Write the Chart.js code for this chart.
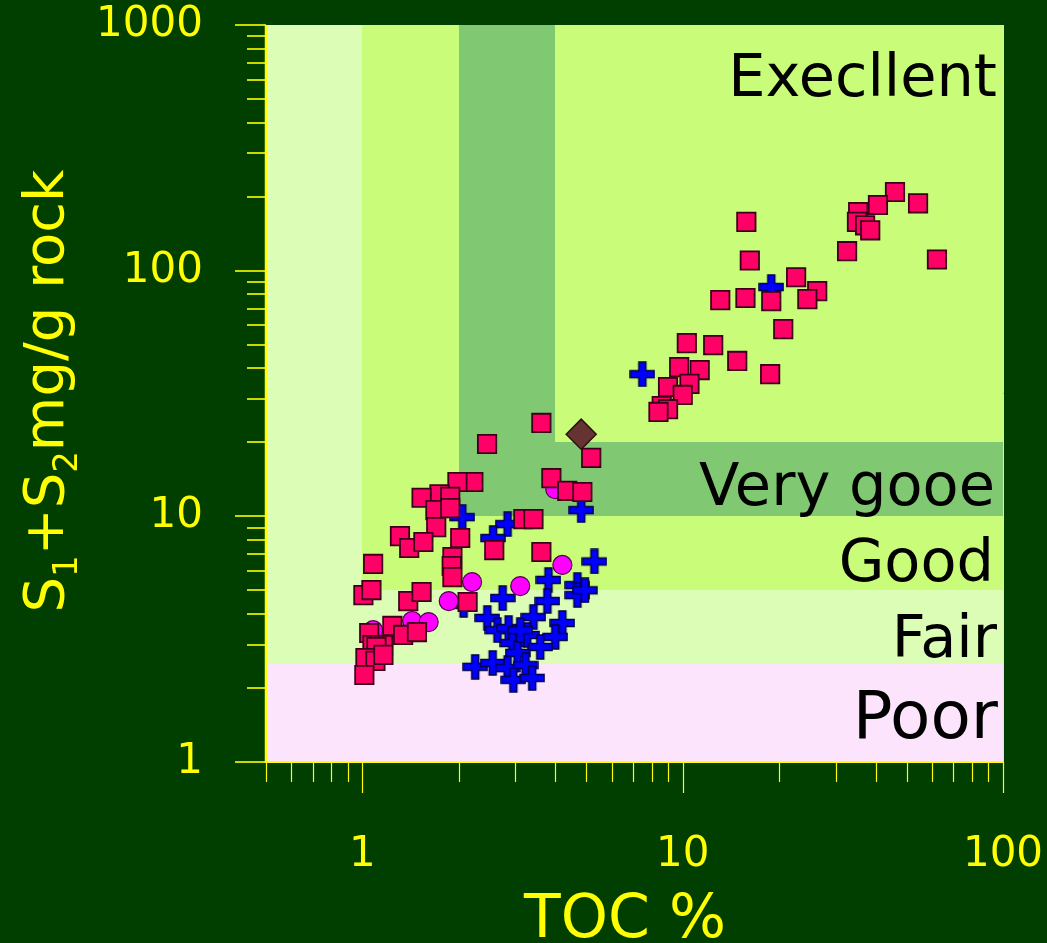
<!DOCTYPE html>
<html>
<head>
<meta charset="utf-8">
<script src="https://cdn.jsdelivr.net/npm/chart.js@4.4.1/dist/chart.umd.min.js"></script>
<style>
html, body { margin: 0; padding: 0; background: #003f00; }
#wrap { width: 1047px; height: 943px; }
</style>
</head>
<body>
<div id="wrap"><canvas id="myChart" width="1047" height="943"></canvas></div>
<script>
// values (TOC %, S1+S2 mg/g rock)
var squareToc = [46.0, 54.3, 40.7, 35.3, 35.0, 37.1, 38.5, 62.2, 15.8, 16.2, 32.6, 22.6, 26.3, 24.5, 18.9, 15.7, 13.1, 20.6,
    10.3, 12.45, 14.8, 18.75, 9.75, 11.3, 10.5, 9.0, 10.0, 8.6, 9.0, 8.4,
    3.62, 2.45, 5.18, 3.89, 4.36, 4.86, 2.22, 1.98, 1.74, 1.53, 1.88, 1.69, 1.88, 1.70, 1.31, 1.40, 1.55, 2.02,
    3.18, 3.42, 2.58, 3.62, 1.08, 1.91, 1.90, 1.91, 1.007, 1.067, 1.39, 1.53, 2.13,
    1.24, 1.34, 1.48, 1.05, 1.16, 1.075, 1.106, 1.022, 1.098, 1.163, 1.014];
var squareS1S2 = [209, 188, 185, 173, 158, 153, 146, 111, 158, 110, 120, 94, 82.6, 76.6, 75.2, 77.4, 75.9, 57.8,
    50.7, 49.8, 42.9, 37.9, 40.5, 39.4, 34.6, 33.6, 31.2, 28.1, 27.3, 26.6,
    24.0, 19.7, 17.3, 14.3, 12.7, 12.56, 13.8, 13.8, 12.3, 11.9, 12.0, 10.6, 10.8, 9.04, 8.31, 7.43, 7.86, 8.16,
    9.75, 9.75, 7.29, 7.16, 6.40, 6.83, 6.28, 5.66, 4.78, 5.01, 4.52, 4.92, 4.48,
    3.58, 3.29, 3.38, 3.35, 2.99, 2.99, 2.94, 2.65, 2.58, 2.73, 2.26];

var crossToc = [2.05, 2.84, 2.56, 4.82, 5.30, 3.81, 4.69, 4.69, 2.74, 3.78, 2.07, 2.455, 3.42, 4.21, 2.64, 2.86,
    3.27, 4.00, 2.94, 3.59, 3.05, 2.25, 2.55, 2.84, 3.23, 2.96, 3.39, 7.48, 18.9, 3.11, 4.95];
var crossS1S2 = [9.93, 9.30, 8.16, 10.6, 6.55, 5.51, 5.25, 4.78, 4.65, 4.52, 4.36, 3.86, 3.89, 3.68, 3.44, 3.51,
    3.29, 3.23, 3.05, 2.94, 2.78, 2.44, 2.53, 2.41, 2.48, 2.16, 2.20, 37.9, 85.8, 3.44, 5.0];

var circleToc = [4.0, 4.21, 3.11, 2.20, 1.86, 1.43, 1.61, 1.08];
var circleS1S2 = [12.9, 6.34, 5.20, 5.40, 4.52, 3.75, 3.71, 3.44];

var diamondToc = [4.82];
var diamondS1S2 = [21.6];

var xTickValues = [1, 10, 100];
var yTickValues = [1, 10, 100, 1000];

// rating zones: [toc from, toc to], [s1+s2 from, s1+s2 to]
var zoneToc = [[0.5, 100], [0.5, 100], [0.5, 1], [1, 100], [2, 4], [2, 100]];
var zoneS1S2 = [[1, 2.5], [2.5, 5], [5, 1000], [5, 1000], [10, 1000], [10, 20]];
var zoneColors = ['#fde4fd', '#dcfdb5', '#dcfdb5', '#c9fd79', '#80c972', '#80c972'];

var classLabels = ['Execllent', 'Very gooe', 'Good', 'Fair', 'Poor'];

var YELLOW = '#ffff00';
var PAGE_BG = '#003f00';

function pts(xs, ys) {
    return xs.map(function (v, i) { return { x: v, y: ys[i] }; });
}

// thick plus sign with a dark outline
var crossImg = document.createElement('canvas');
crossImg.width = 26;
crossImg.height = 26;
(function () {
    var c = crossImg.getContext('2d');
    var a = 9.5, b = 16.5;
    c.beginPath();
    c.moveTo(a, 1); c.lineTo(b, 1); c.lineTo(b, a); c.lineTo(25, a); c.lineTo(25, b); c.lineTo(b, b);
    c.lineTo(b, 25); c.lineTo(a, 25); c.lineTo(a, b); c.lineTo(1, b); c.lineTo(1, a); c.lineTo(a, a);
    c.closePath();
    c.fillStyle = '#0000ff';
    c.fill();
    c.lineWidth = 1.5;
    c.strokeStyle = '#000044';
    c.stroke();
})();

function isMajor(v) {
    var l = Math.log10(v);
    return Math.abs(l - Math.round(l)) < 1e-6;
}

// keep tick padding from eating into the plot area
function noPad(s) {
    s.paddingTop = 0; s.paddingBottom = 0; s.paddingLeft = 0; s.paddingRight = 0;
}

var zonePlugin = {
    id: 'zones',
    beforeDraw: function (chart) {
        var ctx = chart.ctx;
        ctx.save();
        ctx.fillStyle = PAGE_BG;
        ctx.fillRect(0, 0, chart.width, chart.height);
        ctx.restore();
    },
    beforeDatasetsDraw: function (chart) {
        var ctx = chart.ctx, x = chart.scales.x, y = chart.scales.y;
        ctx.save();
        zoneToc.forEach(function (zx, i) {
            var l = Math.round(x.getPixelForValue(zx[0])), r = Math.round(x.getPixelForValue(zx[1]));
            var t = Math.round(y.getPixelForValue(zoneS1S2[i][1])), b = Math.round(y.getPixelForValue(zoneS1S2[i][0]));
            ctx.fillStyle = zoneColors[i];
            ctx.fillRect(l, t, r - l, b - t);
        });
        // rating names
        var right = chart.chartArea.right;
        var base = [96, 505, 581, 657, 738];
        var off = [6, 8, 9, 6, 5];
        var size = [59, 59, 59, 59, 66];
        ctx.fillStyle = '#000000';
        ctx.textAlign = 'right';
        ctx.textBaseline = 'alphabetic';
        classLabels.forEach(function (t, i) {
            ctx.font = size[i] + 'px "DejaVu Sans"';
            ctx.fillText(t, right - off[i], base[i]);
        });
        ctx.restore();
    },
    afterDraw: function (chart) {
        var ctx = chart.ctx, x = chart.scales.x, y = chart.scales.y, a = chart.chartArea;
        ctx.save();
        ctx.strokeStyle = YELLOW;
        // minor + major tick marks
        var d, k, v, p;
        ctx.lineWidth = 1.2;
        for (d = -1; d <= 1; d++) {
            for (k = 1; k <= 9; k++) {
                v = k * Math.pow(10, d);
                if (v < 0.5 || v > 100) continue;
                p = Math.round(x.getPixelForValue(v)) + 0.5;
                ctx.beginPath();
                ctx.moveTo(p, a.bottom);
                ctx.lineTo(p, a.bottom + (k === 1 ? 31 : 20));
                ctx.stroke();
            }
        }
        p = Math.round(x.getPixelForValue(100)) + 0.5;
        ctx.beginPath(); ctx.moveTo(p, a.bottom); ctx.lineTo(p, a.bottom + 31); ctx.stroke();
        ctx.lineWidth = 1.6;
        for (d = 0; d <= 2; d++) {
            for (k = 1; k <= 9; k++) {
                v = k * Math.pow(10, d);
                p = Math.round(y.getPixelForValue(v));
                ctx.beginPath();
                ctx.moveTo(a.left, p);
                ctx.lineTo(a.left - (k === 1 ? 31 : 19), p);
                ctx.stroke();
            }
        }
        p = Math.round(y.getPixelForValue(1000));
        ctx.beginPath(); ctx.moveTo(a.left, p); ctx.lineTo(a.left - 31, p); ctx.stroke();
        // axis lines
        ctx.lineWidth = 2.5;
        ctx.beginPath(); ctx.moveTo(a.left, a.top); ctx.lineTo(a.left, a.bottom + 1); ctx.stroke();
        ctx.lineWidth = 2;
        ctx.beginPath(); ctx.moveTo(a.left, a.bottom); ctx.lineTo(a.right, a.bottom); ctx.stroke();
        ctx.lineWidth = 1;
        ctx.beginPath(); ctx.moveTo(a.right + 0.5, a.top); ctx.lineTo(a.right + 0.5, a.bottom); ctx.stroke();

        // axis titles
        ctx.fillStyle = YELLOW;
        ctx.textAlign = 'center';
        ctx.textBaseline = 'alphabetic';
        ctx.font = '60px "DejaVu Sans"';
        ctx.fillText('TOC %', 625, 937);

        var segs = [['S', 0], ['1', 1], ['+', 0], ['S', 0], ['2', 1], ['mg/g rock', 0]];
        var big = '56px "DejaVu Sans"', small = '34px "DejaVu Sans"';
        var total = 0;
        segs.forEach(function (s) { ctx.font = s[1] ? small : big; total += ctx.measureText(s[0]).width; });
        ctx.translate(63, 391);
        ctx.rotate(-Math.PI / 2);
        ctx.textAlign = 'left';
        var cx = -total / 2;
        segs.forEach(function (s) {
            ctx.font = s[1] ? small : big;
            ctx.fillText(s[0], cx, s[1] ? 14 : 0);
            cx += ctx.measureText(s[0]).width;
        });
        ctx.restore();
    }
};

var ctx = document.getElementById('myChart').getContext('2d');
Chart.defaults.font.family = '"DejaVu Sans"';

var myChart = new Chart(ctx, {
    type: 'scatter',
    data: {
        datasets: [{
            label: 'diamond',
            data: pts(diamondToc, diamondS1S2),
            pointStyle: 'rectRot',
            pointRadius: 15,
            backgroundColor: '#663333',
            borderColor: '#2a1010',
            borderWidth: 1.5
        }, {
            label: 'squares',
            data: pts(squareToc, squareS1S2),
            pointStyle: 'rect',
            pointRadius: 13,
            backgroundColor: '#ff0066',
            borderColor: '#3d001a',
            borderWidth: 1.8
        }, {
            label: 'circles',
            data: pts(circleToc, circleS1S2),
            pointStyle: 'circle',
            pointRadius: 9.5,
            backgroundColor: '#ff00ff',
            borderColor: '#4d004d',
            borderWidth: 1.2
        }, {
            label: 'crosses',
            data: pts(crossToc, crossS1S2),
            pointStyle: crossImg,
            pointRadius: 12
        }]
    },
    options: {
        responsive: false,
        animation: false,
        events: [],
        layout: { padding: { top: 25, right: 44, left: 0, bottom: 0 } },
        plugins: { legend: { display: false }, tooltip: { enabled: false } },
        scales: {
            x: {
                type: 'logarithmic',
                position: 'bottom',
                min: 0.5,
                max: 100,
                grid: { display: false, drawTicks: false },
                border: { display: false },
                afterBuildTicks: function (s) { s.ticks = xTickValues.map(function (v) { return { value: v }; }); },
                afterFit: function (s) { s.height = 181; noPad(s); },
                ticks: {
                    autoSkip: false,
                    maxRotation: 0,
                    padding: 72,
                    color: YELLOW,
                    font: { size: 42, lineHeight: 1 },
                    callback: function (v) { return isMajor(v) ? String(v) : ''; }
                }
            },
            y: {
                type: 'logarithmic',
                min: 1,
                max: 1000,
                grid: { display: false, drawTicks: false },
                border: { display: false },
                afterBuildTicks: function (s) { s.ticks = yTickValues.map(function (v) { return { value: v }; }); },
                afterFit: function (s) { s.width = 266; noPad(s); },
                ticks: {
                    autoSkip: false,
                    padding: 63,
                    color: YELLOW,
                    font: { size: 42, lineHeight: 1 },
                    callback: function (v) { return isMajor(v) ? String(v) : ''; }
                }
            }
        }
    },
    plugins: [zonePlugin]
});
</script>
</body>
</html>
